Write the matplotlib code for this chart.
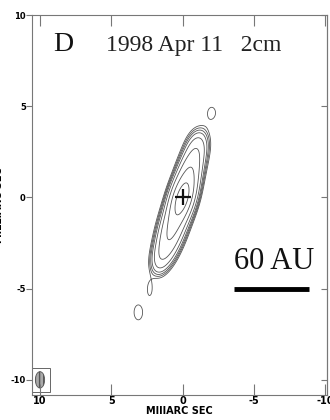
import numpy as np
import matplotlib
matplotlib.use("Agg")
import matplotlib.pyplot as plt
from matplotlib.patches import Ellipse, Rectangle

# Source model: Gaussian components (RA offset, Dec offset in mas, peak, major sigma, minor sigma, PA deg)
comp_x = [0.0, 0.6, 1.1, 1.6, -0.5, -1.0, -2.05, 2.3, 3.1]
comp_y = [0.0, -1.4, -2.6, -3.4, 1.4, 2.7, 4.65, -5.05, -6.3]
comp_peak = [1.0, 0.40, 0.18, 0.06, 0.30, 0.11, 0.027, 0.027, 0.029]
comp_maj = [0.8, 0.9, 0.8, 0.6, 0.8, 0.7, 0.45, 0.45, 0.55]
comp_min = [0.44, 0.48, 0.46, 0.40, 0.46, 0.48, 0.40, 0.22, 0.40]
comp_pa = [-23, -23, -23, -23, -23, -23, 0, 0, 0]

contour_levels = [0.022, 0.03, 0.04, 0.055, 0.09, 0.18, 0.4, 0.8]

xticks = [10, 5, 0, -5, -10]
yticks = [10, 5, 0, -5, -10]
xlabel = "MIIIARC SEC"
ylabel = "MILLIARC SEC"
panel = "D"
epoch = "1998 Apr 11   2cm"
scale_label = "60 AU"
scale_len = 5.3  # mas
beam_x, beam_y, beam_w, beam_h = 10.0, -10.0, 0.65, 0.9

fig = plt.figure(figsize=(3.3, 4.2), dpi=100)
ax = fig.add_axes([0.097, 0.060, 0.894, 0.904])
ax.set_xlim(10.56, -10.14)
ax.set_ylim(-10.82, 10.0)

gx = np.linspace(12, -12, 600)
gy = np.linspace(-12, 12, 700)
X, Y = np.meshgrid(gx, gy)
Z = np.zeros_like(X)
for cx, cy, p, a, b, pa in zip(comp_x, comp_y, comp_peak, comp_maj, comp_min, comp_pa):
    t = np.deg2rad(pa)
    dx, dy = X - cx, Y - cy
    u = dx * np.sin(t) + dy * np.cos(t)
    v = dx * np.cos(t) - dy * np.sin(t)
    Z += p * np.exp(-0.5 * ((u / a) ** 2 + (v / b) ** 2))

ax.contour(X, Y, Z, levels=contour_levels, colors="#555555", linewidths=0.6)
ax.plot([0], [0], marker="+", color="#111111", markersize=11, markeredgewidth=1.6)

# restoring beam in the corner
ax.add_patch(Rectangle((beam_x - 0.7, beam_y - 0.65), 1.25, 1.3, fill=False,
                       edgecolor="#666666", lw=0.7))
ax.add_patch(Ellipse((beam_x, beam_y), beam_w, beam_h, facecolor="#aaaaaa",
                     edgecolor="#555555", lw=0.6, hatch="||||"))

serif = ["Liberation Serif", "DejaVu Serif"]
ax.text(9.1, 8.05, panel, fontsize=20, family=serif, color="#111111")
ax.text(5.4, 8.05, epoch, fontsize=17, family=serif, color="#222222")
ax.text(-3.6, -3.9, scale_label, fontsize=22, family=serif, color="#111111")
ax.plot([-3.6, -3.6 - scale_len], [-5.0, -5.0], color="black", lw=3.5,
        solid_capstyle="butt")

for s in ax.spines.values():
    s.set_color("#777777")
    s.set_linewidth(0.8)

ax.set_xticks(xticks)
ax.set_yticks(yticks)
ax.set_xticklabels([str(v) for v in xticks])
ax.set_yticklabels([str(v) for v in yticks])
ax.tick_params(axis="x", direction="in", length=8, width=0.8, color="#777777",
               top=True, labelsize=7, pad=1)
ax.tick_params(axis="y", direction="out", length=4, width=0.8, color="#777777",
               labelsize=6, pad=0.5)
for lab in ax.get_xticklabels() + ax.get_yticklabels():
    lab.set_fontweight("bold")

# short inward ticks on the right-hand frame
rax = ax.secondary_yaxis("right")
rax.set_yticks(yticks)
rax.tick_params(direction="in", length=4, width=0.8, color="#777777",
                labelright=False)
rax.spines["right"].set_color("#777777")
rax.spines["right"].set_linewidth(0.8)

ax.set_xlabel(xlabel, fontsize=7, fontweight="bold", labelpad=0)
ax.set_ylabel(ylabel, fontsize=7, fontweight="bold")
ax.yaxis.set_label_coords(-0.095, 0.5)

fig.savefig("out.png", dpi=100)
